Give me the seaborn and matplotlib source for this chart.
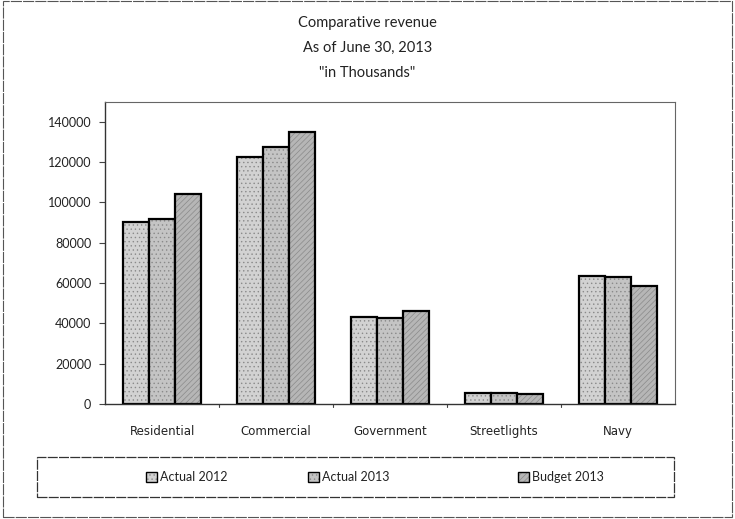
import matplotlib
matplotlib.use("Agg")
import matplotlib.pyplot as plt
import matplotlib.patches as mpatches
import matplotlib.colors as mcolors
import pandas as pd
import seaborn as sns

# values (in thousands)
categories = ["Residential", "Commercial", "Government", "Streetlights", "Navy"]
series = ["Actual 2012", "Actual 2013", "Budget 2013"]
actual_2012 = [90500, 122700, 43100, 5200, 63700]
actual_2013 = [91900, 127600, 42500, 5300, 62900]
budget_2013 = [104100, 135000, 46100, 5000, 58300]
y_ticks = [0, 20000, 40000, 60000, 80000, 100000, 120000, 140000]
title_lines = ["Comparative revenue", "As of June 30, 2013", "\"in Thousands\""]

df = pd.DataFrame({
    "category": categories * 3,
    "series": [s for s in series for _ in categories],
    "value": actual_2012 + actual_2013 + budget_2013,
})

sns.set_theme(style="white")
plt.rcParams["font.family"] = ["Lato", "DejaVu Sans"]
plt.rcParams["hatch.linewidth"] = 0.5

fills = ["#d2d2d2", "#c4c4c4", "#b6b6b6"]
hatches = ["....", "....", "//////"]
hatch_col = mcolors.to_rgba("#8a8a8a")

fig = plt.figure(figsize=(7.35, 5.19), dpi=100)
ax = fig.add_axes([0.143, 0.222, 0.775, 0.582])

sns.barplot(data=df, x="category", y="value", hue="series", order=categories,
            hue_order=series, palette=fills, width=0.68, saturation=1,
            edgecolor="black", linewidth=1.6, legend=False, ax=ax)

for container, h in zip(ax.containers, hatches):
    for bar in container:
        bar.set_hatch(h)
        bar._hatch_color = hatch_col

ax.set_ylim(0, 150000)
ax.set_xlim(-0.5, len(categories) - 0.5)
ax.set_yticks(y_ticks)
ax.set_yticklabels([str(t) for t in y_ticks], fontsize=9, color="#222222")
ax.set_xticks(range(len(categories)))
ax.set_xticklabels(categories, fontsize=8.5, color="#222222", family="DejaVu Sans")
ax.set_xlabel("")
ax.set_ylabel("")
ax.tick_params(axis="y", left=True, length=4, width=0.8, color="#444444", pad=6)
ax.tick_params(axis="x", bottom=False, pad=9)
# category boundary ticks on the x axis
for b in range(1, len(categories)):
    ax.plot([b - 0.5, b - 0.5], [0, -0.012], transform=ax.get_xaxis_transform(),
            color="#444444", lw=0.8, clip_on=False)

for side in ["left", "bottom"]:
    ax.spines[side].set_color("#333333")
    ax.spines[side].set_linewidth(1.0)
for side in ["top", "right"]:
    ax.spines[side].set_visible(True)
    ax.spines[side].set_color("#666666")
    ax.spines[side].set_linewidth(0.8)
    ax.spines[side].set_linestyle((0, (6, 1)))

for i, line in enumerate(title_lines):
    fig.text(0.5, 0.955 - i * 0.048, line, ha="center", va="center",
             fontsize=10.5, color="#222222")

# legend strip: frame plus one entry per series at Excel's spacing
fig.patches.append(mpatches.Rectangle((37 / 735, 1 - 497 / 519), 637 / 735, 40 / 519,
                                      transform=fig.transFigure, fill=False,
                                      edgecolor="#333333", linewidth=0.9,
                                      linestyle=(0, (8, 1))))
entry_x = [146 / 735, 308 / 735, 518 / 735]
for name, c, h, x0 in zip(series, fills, hatches, entry_x):
    patch = mpatches.Patch(facecolor=c, edgecolor="black", hatch=h, linewidth=1.0)
    patch._hatch_color = hatch_col
    leg = fig.legend([patch], [name], loc="center left", bbox_to_anchor=(x0, 1 - 477 / 519),
                     fontsize=9, frameon=False, handlelength=0.9, handleheight=0.9,
                     handletextpad=0.25, borderpad=0, borderaxespad=0)
    for t in leg.get_texts():
        t.set_color("#222222")

# outer chart border
fig.patches.append(mpatches.Rectangle((0.004, 0.004), 0.992, 0.994, transform=fig.transFigure,
                                      fill=False, edgecolor="#555555", linewidth=0.8,
                                      linestyle=(0, (10, 1))))

fig.savefig("out.png", dpi=100)
